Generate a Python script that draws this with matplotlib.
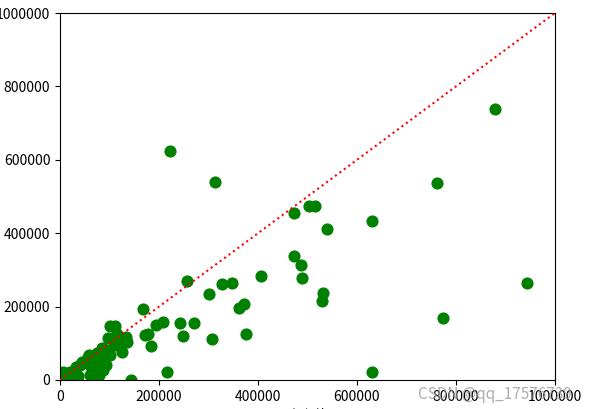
import matplotlib
matplotlib.use('Agg')
import matplotlib.pyplot as plt

plt.rcParams['font.family'] = ['Noto Sans CJK SC', 'DejaVu Sans']

real = [222e3, 313e3, 879e3, 762e3, 473e3, 503e3, 515e3, 539e3, 630e3, 473e3, 487e3, 489e3,
        531e3, 529e3, 406e3, 347e3, 327e3, 301e3, 372e3, 362e3, 376e3, 307e3, 257e3, 242e3,
        271e3, 248e3, 208e3, 194e3, 168e3, 172e3, 178e3, 184e3, 216e3, 143e3, 630e3, 774e3,
        943e3, 101e3, 111e3, 115e3, 121e3, 133e3, 135e3, 111e3, 93e3, 85e3, 101e3, 125e3,
        81e3, 93e3, 87e3, 79e3, 57e3, 59e3, 44e3, 40e3, 32e3, 20e3, 6e3, 8e3, 24e3, 16e3,
        61e3, 65e3, 73e3, 53e3, 28e3, 36e3, 107e3, 97e3, 75e3, 67e3, 59e3]
pred = [624e3, 540e3, 738e3, 537e3, 455e3, 474e3, 474e3, 411e3, 433e3, 338e3, 313e3, 278e3,
        237e3, 215e3, 283e3, 264e3, 262e3, 234e3, 207e3, 196e3, 125e3, 112e3, 270e3, 155e3,
        155e3, 120e3, 158e3, 150e3, 193e3, 123e3, 125e3, 93e3, 22e3, 0, 22e3, 169e3,
        264e3, 147e3, 147e3, 125e3, 101e3, 117e3, 104e3, 95e3, 82e3, 87e3, 68e3, 76e3,
        60e3, 41e3, 27e3, 14e3, 63e3, 44e3, 49e3, 41e3, 35e3, 22e3, 22e3, 0, 3e3, 11e3,
        14e3, 27e3, 49e3, 52e3, 22e3, 11e3, 109e3, 114e3, 74e3, 63e3, 68e3]

fig = plt.figure(figsize=(5.89, 4.09), dpi=100)
ax = fig.add_axes([0.102, 0.071, 0.840, 0.897])
ax.scatter(real, pred, c='green', s=60, zorder=2)
ax.plot([0, 1000000], [0, 1000000], 'r:', lw=1.5, zorder=3)
ax.set_xlim(0, 1000000)
ax.set_ylim(0, 1000000)
ax.set_xticks([0, 200000, 400000, 600000, 800000, 1000000])
ax.set_xticklabels(['0', '200000', '400000', '600000', '800000', '1000000'])
ax.set_yticks([0, 200000, 400000, 600000, 800000, 1000000])
ax.set_yticklabels(['0', '200000', '400000', '600000', '800000', '1000000'])
ax.set_xlabel('真实值')
fig.text(0.71, 0.025, 'CSDN @qq_17576739', fontsize=11, color='#999999', alpha=0.8)
fig.savefig('out.png', dpi=100)
